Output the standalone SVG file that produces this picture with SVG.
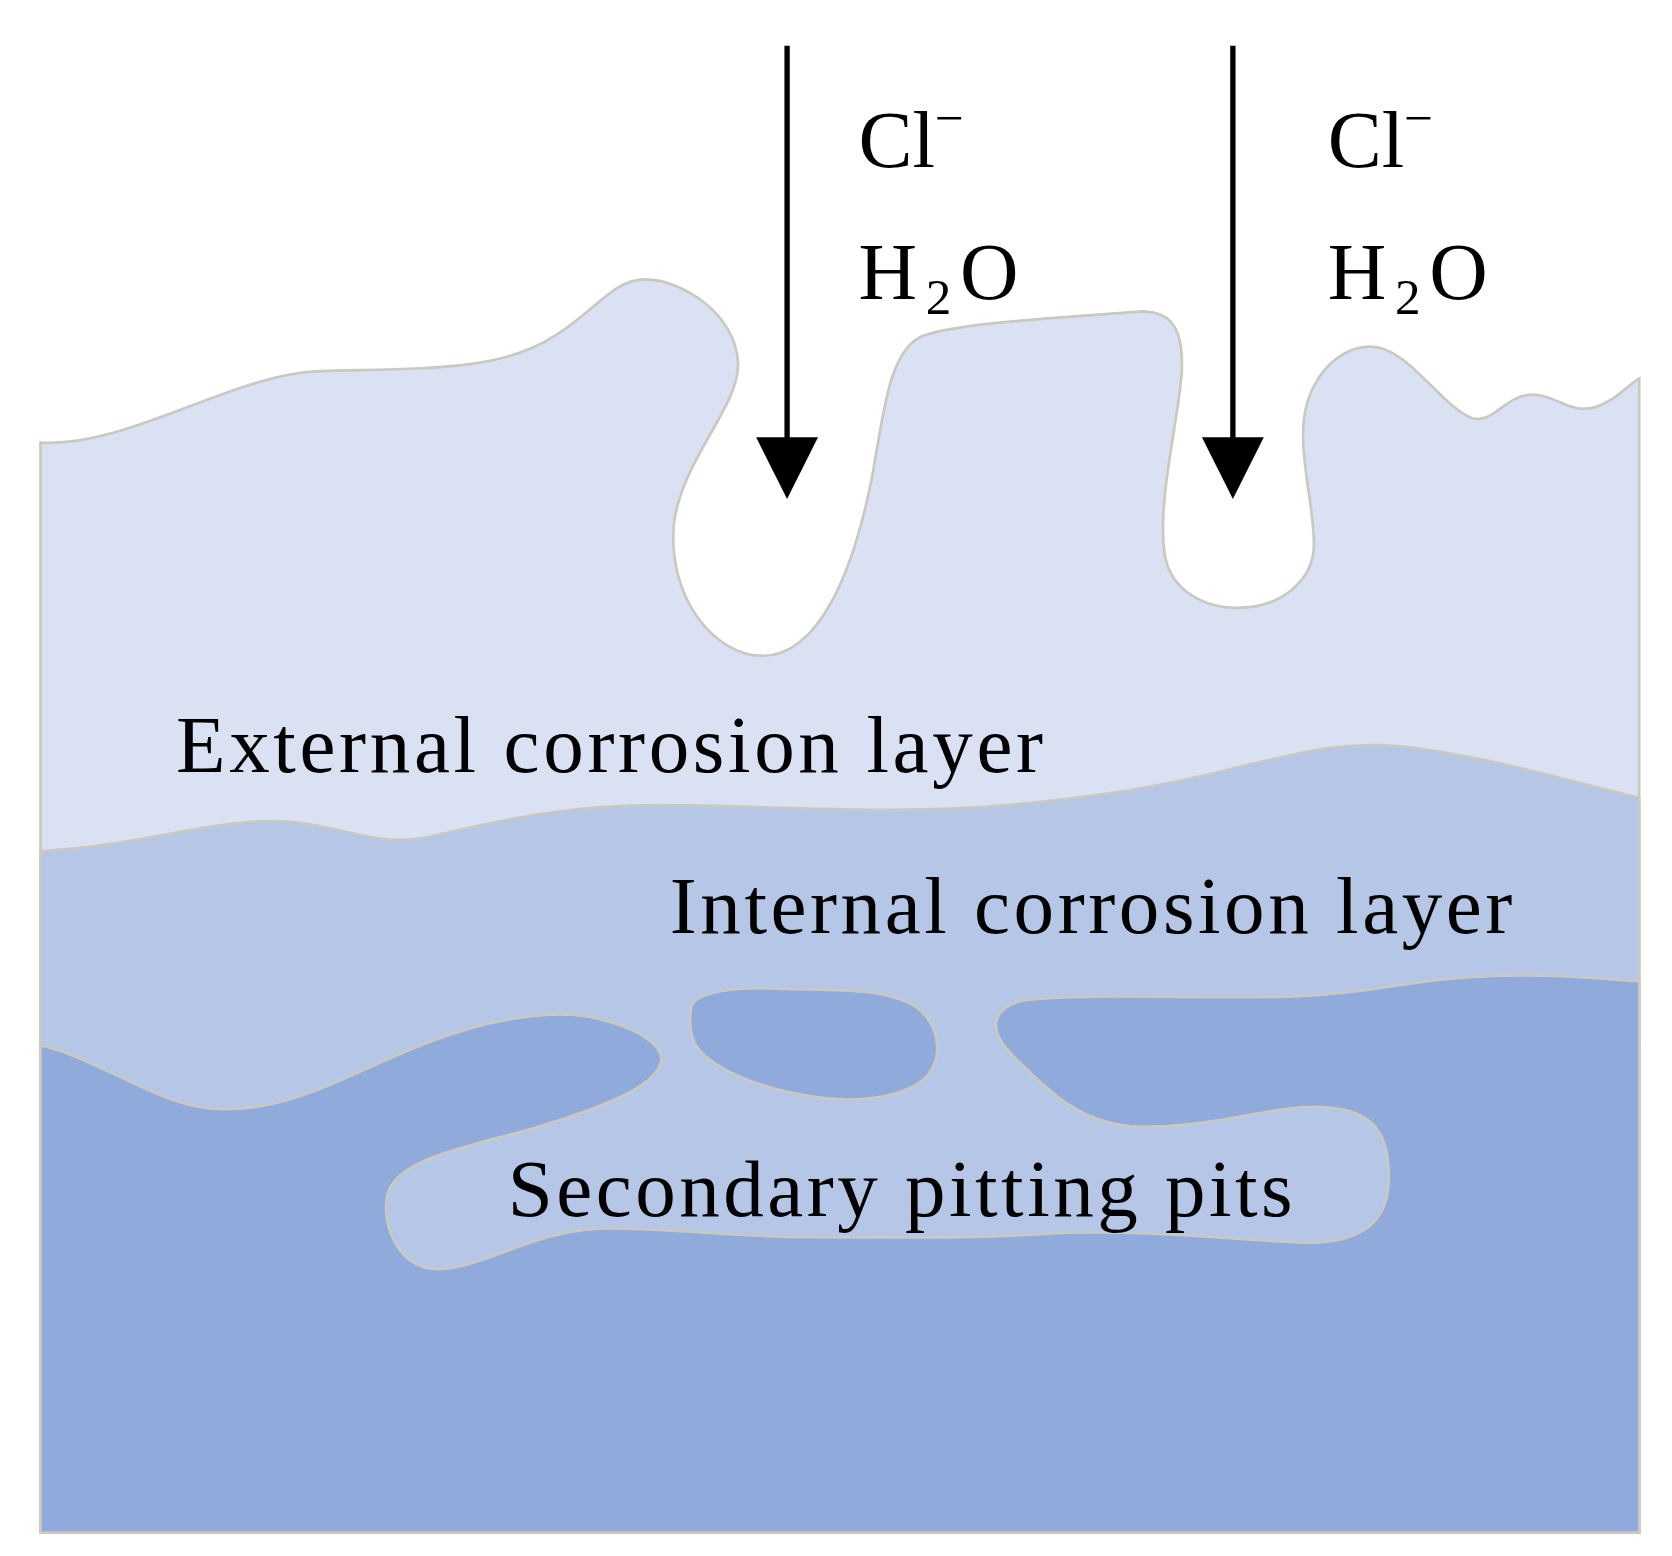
<svg xmlns="http://www.w3.org/2000/svg" width="1672" height="1556" viewBox="0 0 1672 1556">
<style>
.l{stroke:#c9c9c2;stroke-width:2.5}
.t{font-family:"Liberation Serif","Times New Roman",serif;fill:#000;font-size:76px}
</style>
<rect width="1672" height="1556" fill="#fff"/>
<g transform="scale(1.0665)">
<g id="external-layer">
<path class="l" fill="#dae1f2" d="M38,415 C120,420 220,350 300,348 C400,345 470,348 520,315 C560,290 575,262 605,262 C640,262 690,295 692,340 C694,380 640,430 632,490 C625,560 670,615 715,615 C770,615 800,530 815,460 C828,400 830,330 865,315 C900,302 1000,298 1070,292 C1100,292 1110,310 1108,350 C1104,400 1085,470 1092,520 C1098,555 1130,570 1160,570 C1200,570 1232,545 1232,510 C1232,470 1215,420 1225,380 C1235,345 1260,325 1285,325 C1320,325 1350,380 1380,392 C1400,398 1410,372 1435,370 C1460,370 1470,388 1495,382 C1515,376 1525,362 1537,355 L1537,1437 L38,1437 Z"/>
</g>
<g id="internal-layer">
<path class="l" fill="#b5c6e6" d="M38,798 C120,795 200,768 260,770 C320,772 350,795 400,785 C460,772 520,755 620,755 C700,755 800,762 900,758 C1000,752 1080,740 1150,722 C1220,705 1270,692 1330,702 C1420,715 1480,735 1537,748 L1537,1437 L38,1437 Z"/>
</g>
<g id="base-metal">
<path class="l" fill="#90aadb" d="M38,980 C100,995 150,1040 210,1040 C280,1040 330,1005 400,978 C460,955 520,945 560,955 C600,965 622,980 620,995 C615,1020 560,1040 500,1058 C440,1075 380,1085 365,1115 C355,1140 370,1190 410,1190 C450,1190 500,1155 560,1152 C620,1150 680,1160 760,1160 C840,1160 900,1162 980,1157 C1060,1152 1150,1162 1220,1165 C1270,1167 1300,1150 1302,1110 C1304,1065 1290,1040 1240,1038 C1190,1036 1130,1060 1060,1056 C1010,1052 980,1020 950,990 C925,965 930,945 960,938 C1020,930 1150,938 1220,934 C1300,930 1320,918 1400,915 C1460,913 1500,918 1537,920 L1537,1437 L38,1437 Z"/>
<path class="l" fill="#90aadb" d="M648,945 C650,930 690,925 730,927 C780,929 830,925 860,945 C880,960 885,990 870,1008 C850,1030 800,1035 760,1028 C710,1020 660,1000 650,975 C646,963 647,952 648,945 Z"/>
</g>
<g id="connectors">
<line x1="738" y1="43" x2="738" y2="420" stroke="#000" stroke-width="5"/>
<polygon points="709,410 767,410 738,468" fill="#000"/>
<line x1="1156" y1="43" x2="1156" y2="420" stroke="#000" stroke-width="5"/>
<polygon points="1127,410 1185,410 1156,468" fill="#000"/>
</g>
<g id="labels">
<text class="t" x="805" y="157">Cl<tspan dy="-30" font-size="48">−</tspan></text>
<text class="t" x="805" y="280" textLength="150">H<tspan dy="14" font-size="48">2</tspan><tspan dy="-14">O</tspan></text>
<text class="t" x="1245" y="157">Cl<tspan dy="-30" font-size="48">−</tspan></text>
<text class="t" x="1245" y="280" textLength="150">H<tspan dy="14" font-size="48">2</tspan><tspan dy="-14">O</tspan></text>
<text class="t" x="165" y="724" textLength="813">External corrosion layer</text>
<text class="t" x="628" y="875" textLength="790">Internal corrosion layer</text>
<text class="t" x="476" y="1140" textLength="736">Secondary pitting pits</text>
</g>
</g>
</svg>
